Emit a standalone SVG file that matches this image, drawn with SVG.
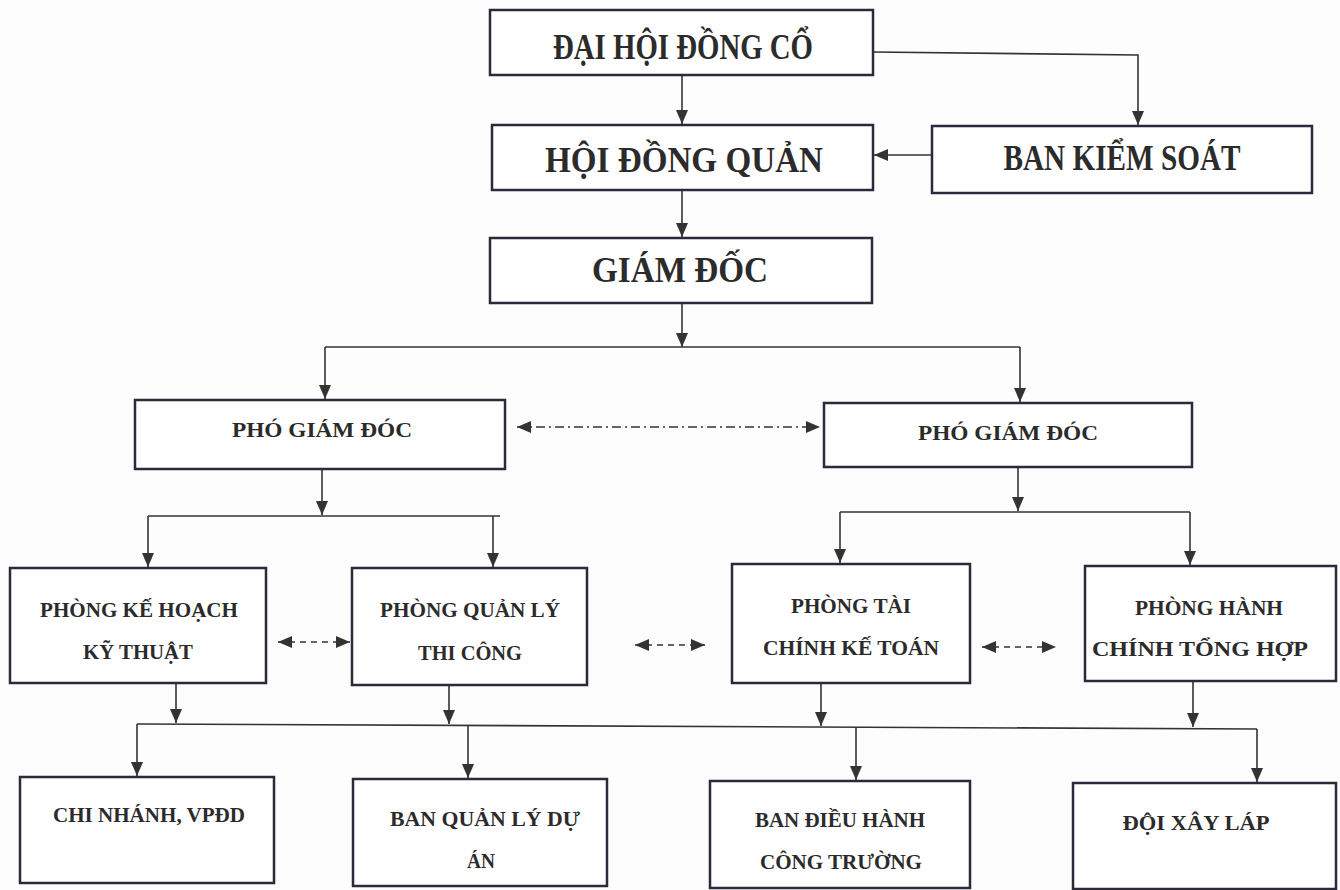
<svg xmlns="http://www.w3.org/2000/svg" width="1340" height="890" viewBox="0 0 1340 890">
<style>
.box{fill:#fff;stroke:#2a2a3a;stroke-width:2.5}
.t{font-family:"Liberation Serif","Times New Roman",serif;font-weight:bold;fill:#2b2b2b;text-anchor:middle}
.big{font-size:35px}
.sm{font-size:21px}
.ln{fill:none;stroke:#333;stroke-width:1.6}
.dd{stroke-dasharray:9 4 2 4}
.ds{stroke-dasharray:6 5}
</style>
<defs>
<marker id="ah" markerUnits="userSpaceOnUse" markerWidth="14" markerHeight="12" refX="14" refY="6" orient="auto-start-reverse">
<path d="M0,0 L14,6 L0,12 Z" fill="#333"/>
</marker>
</defs>
<rect width="1340" height="890" fill="#fdfdfd"/>
<g id="connectors">
<path class="ln" d="M682,75 V124" marker-end="url(#ah)"/>
<path class="ln" d="M873,52 L1138,55 V125" marker-end="url(#ah)"/>
<path class="ln" d="M932,155 H874" marker-end="url(#ah)"/>
<path class="ln" d="M682,190 V237" marker-end="url(#ah)"/>
<path class="ln" d="M682,303 V347" marker-end="url(#ah)"/>
<path class="ln" d="M325,347 H1020"/>
<path class="ln" d="M325,347 V399" marker-end="url(#ah)"/>
<path class="ln" d="M1020,347 V402" marker-end="url(#ah)"/>
<path class="ln dd" d="M517,427 H820" marker-start="url(#ah)" marker-end="url(#ah)"/>
<path class="ln" d="M322,469 V515" marker-end="url(#ah)"/>
<path class="ln" d="M148,516 H500"/>
<path class="ln" d="M148,516 V567" marker-end="url(#ah)"/>
<path class="ln" d="M493,516 V567" marker-end="url(#ah)"/>
<path class="ln" d="M1018,467 V511" marker-end="url(#ah)"/>
<path class="ln" d="M840,512 H1190"/>
<path class="ln" d="M840,512 V563" marker-end="url(#ah)"/>
<path class="ln" d="M1190,512 V565" marker-end="url(#ah)"/>
<path class="ln ds" d="M278,642 H350" marker-start="url(#ah)" marker-end="url(#ah)"/>
<path class="ln ds" d="M635,645 H705" marker-start="url(#ah)" marker-end="url(#ah)"/>
<path class="ln ds" d="M982,647 H1056" marker-start="url(#ah)" marker-end="url(#ah)"/>
<path class="ln" d="M176,683 V723" marker-end="url(#ah)"/>
<path class="ln" d="M449,685 V724" marker-end="url(#ah)"/>
<path class="ln" d="M821,683 V726" marker-end="url(#ah)"/>
<path class="ln" d="M1193,681 V727" marker-end="url(#ah)"/>
<path class="ln" d="M137,724 L1257,729"/>
<path class="ln" d="M137,724 V776" marker-end="url(#ah)"/>
<path class="ln" d="M468,725 V778" marker-end="url(#ah)"/>
<path class="ln" d="M856,727 V780" marker-end="url(#ah)"/>
<path class="ln" d="M1257,729 V782" marker-end="url(#ah)"/>
</g>
<g id="dai-hoi-dong-co">
<rect class="box" x="490" y="10" width="383" height="65"/>
<text class="t big" x="683" y="59" textLength="260" lengthAdjust="spacingAndGlyphs">ĐẠI HỘI ĐỒNG CỔ</text>
</g>
<g id="hoi-dong-quan">
<rect class="box" x="492" y="125" width="381" height="65"/>
<text class="t big" x="684" y="172" textLength="278" lengthAdjust="spacingAndGlyphs">HỘI ĐỒNG QUẢN</text>
</g>
<g id="ban-kiem-soat">
<rect class="box" x="932" y="126" width="380" height="67"/>
<text class="t big" x="1122" y="170" textLength="237" lengthAdjust="spacingAndGlyphs">BAN KIỂM SOÁT</text>
</g>
<g id="giam-doc">
<rect class="box" x="490" y="238" width="382" height="65"/>
<text class="t big" x="680" y="282" textLength="176" lengthAdjust="spacingAndGlyphs">GIÁM ĐỐC</text>
</g>
<g id="pho-giam-doc-1">
<rect class="box" x="135" y="400" width="370" height="69"/>
<text class="t sm" x="322" y="437" textLength="180" lengthAdjust="spacingAndGlyphs">PHÓ GIÁM ĐÓC</text>
</g>
<g id="pho-giam-doc-2">
<rect class="box" x="824" y="403" width="368" height="64"/>
<text class="t sm" x="1008" y="440" textLength="180" lengthAdjust="spacingAndGlyphs">PHÓ GIÁM ĐÓC</text>
</g>
<g id="phong-ke-hoach">
<rect class="box" x="10" y="568" width="256" height="115"/>
<text class="t sm" x="139" y="617" textLength="198" lengthAdjust="spacingAndGlyphs">PHÒNG KẾ HOẠCH</text>
<text class="t sm" x="138" y="659" textLength="110" lengthAdjust="spacingAndGlyphs">KỸ THUẬT</text>
</g>
<g id="phong-quan-ly-thi-cong">
<rect class="box" x="352" y="568" width="235" height="117"/>
<text class="t sm" x="470" y="617" textLength="180" lengthAdjust="spacingAndGlyphs">PHÒNG QUẢN LÝ</text>
<text class="t sm" x="470" y="660" textLength="104" lengthAdjust="spacingAndGlyphs">THI CÔNG</text>
</g>
<g id="phong-tai-chinh">
<rect class="box" x="732" y="564" width="238" height="119"/>
<text class="t sm" x="851" y="613" textLength="120" lengthAdjust="spacingAndGlyphs">PHÒNG TÀI</text>
<text class="t sm" x="851" y="655" textLength="176" lengthAdjust="spacingAndGlyphs">CHÍNH KẾ TOÁN</text>
</g>
<g id="phong-hanh-chinh">
<rect class="box" x="1085" y="566" width="251" height="115"/>
<text class="t sm" x="1209" y="615" textLength="148" lengthAdjust="spacingAndGlyphs">PHÒNG HÀNH</text>
<text class="t sm" x="1200" y="656" textLength="216" lengthAdjust="spacingAndGlyphs">CHÍNH TỔNG  HỢP</text>
</g>
<g id="chi-nhanh">
<rect class="box" x="20" y="777" width="254" height="106"/>
<text class="t sm" x="149" y="822" textLength="192" lengthAdjust="spacingAndGlyphs">CHI NHÁNH, VPĐD</text>
</g>
<g id="ban-quan-ly-du-an">
<rect class="box" x="353" y="779" width="254" height="107"/>
<text class="t sm" x="485" y="826" textLength="190" lengthAdjust="spacingAndGlyphs">BAN QUẢN LÝ DỰ</text>
<text class="t sm" x="481" y="868" textLength="28" lengthAdjust="spacingAndGlyphs">ÁN</text>
</g>
<g id="ban-dieu-hanh">
<rect class="box" x="710" y="781" width="260" height="107"/>
<text class="t sm" x="840" y="827" textLength="170" lengthAdjust="spacingAndGlyphs">BAN ĐIỀU HÀNH</text>
<text class="t sm" x="841" y="869" textLength="162" lengthAdjust="spacingAndGlyphs">CÔNG TRƯỜNG</text>
</g>
<g id="doi-xay-lap">
<rect class="box" x="1073" y="783" width="263" height="106"/>
<text class="t sm" x="1196" y="830" textLength="147" lengthAdjust="spacingAndGlyphs">ĐỘI XÂY LÁP</text>
</g>
</svg>
